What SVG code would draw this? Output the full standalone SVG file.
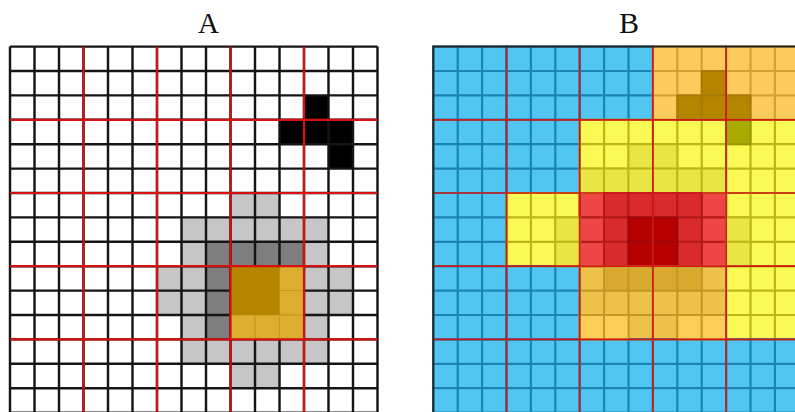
<svg xmlns="http://www.w3.org/2000/svg" xmlns:xlink="http://www.w3.org/1999/xlink" width="795" height="412" viewBox="0 0 795 412">
<style>
.title{font-family:"Liberation Serif","Times New Roman",serif;fill:#111;text-anchor:middle}
.lg{fill:#C6C6C6}.dk{fill:#7E7E7E}.bk{fill:#000}
.gridA{fill:none;stroke:#151515;stroke-width:0.1}
.redA{fill:none;stroke:#D41010;stroke-width:0.09}
.goldD{fill:#B58500}
.goldL{fill:#DCAE30;stroke:#C49A22;stroke-width:0.05}
.fB{fill:#52C6F3}.sB{stroke:#1A84B4}
.fY{fill:#FBFA55}.sY{stroke:#BDB714}
.fO{fill:#FDCB5B}.sO{stroke:#D3A233}
.fR{fill:#EE4646}.sR{stroke:#B41A1A}
.fG{fill:#EDC14A}.sG{stroke:#C49A26}
.bl{fill:none;stroke-width:0.09}
.c{stroke-width:0.08}
.dg{fill:#B58500;stroke:#A57A05}
.ol{fill:#A9AA00;stroke:#979600}
.dy{fill:#E9E545;stroke:#BDB714}
.rM{fill:#D92B2B;stroke:#B41A1A}
.rD{fill:#B70000;stroke:#9E0808}
.gd{fill:#DAAA2F;stroke:#C49A26}
.gl{fill:#FBCF57;stroke:#C49A26}
.redB{fill:none;stroke:#D01818;stroke-width:0.07}
</style>
<defs>
<path id="g3" d="M0 0H3V3H0ZM1 0V3M2 0V3M0 1H3M0 2H3"/>
</defs>
<rect width="795" height="412" fill="#fff"/>
<text class="title" x="208.5" y="32.5" font-size="29">A</text>
<text class="title" x="629" y="33" font-size="30">B</text>

<g id="gridA" transform="translate(10,46.6) scale(24.5,24.4)">
  <rect width="15" height="15.2" fill="#fff"/>
  <!-- black shape -->
  <rect class="bk" x="12" y="2" width="1" height="1"/>
  <rect class="bk" x="11" y="3" width="3" height="1"/>
  <rect class="bk" x="13" y="4" width="1" height="1"/>
  <!-- light grey -->
  <rect class="lg" x="9" y="6" width="2" height="1"/>
  <rect class="lg" x="7" y="7" width="6" height="1"/>
  <rect class="lg" x="7" y="8" width="1" height="1"/>
  <rect class="lg" x="12" y="8" width="1" height="1"/>
  <rect class="lg" x="6" y="9" width="2" height="2"/>
  <rect class="lg" x="12" y="9" width="2" height="2"/>
  <rect class="lg" x="7" y="11" width="1" height="1"/>
  <rect class="lg" x="12" y="11" width="1" height="1"/>
  <rect class="lg" x="7" y="12" width="6" height="1"/>
  <rect class="lg" x="9" y="13" width="2" height="1"/>
  <!-- dark grey -->
  <rect class="dk" x="8" y="8" width="4" height="1"/>
  <rect class="dk" x="8" y="9" width="1" height="3"/>
  <path class="gridA" d="M0 0V15.2M1 0V15.2M2 0V15.2M3 0V15.2M4 0V15.2M5 0V15.2M6 0V15.2M7 0V15.2M8 0V15.2M9 0V15.2M10 0V15.2M11 0V15.2M12 0V15.2M13 0V15.2M14 0V15.2M15 0V15.2M0 0H15M0 1H15M0 2H15M0 3H15M0 4H15M0 5H15M0 6H15M0 7H15M0 8H15M0 9H15M0 10H15M0 11H15M0 12H15M0 13H15M0 14H15M0 15H15"/>
  <!-- gold block -->
  <rect class="goldL" x="11" y="9" width="1" height="1"/>
  <rect class="goldL" x="11" y="10" width="1" height="1"/>
  <rect class="goldL" x="9" y="11" width="1" height="1"/>
  <rect class="goldL" x="10" y="11" width="1" height="1"/>
  <rect class="goldL" x="11" y="11" width="1" height="1"/>
  <rect class="goldD" x="9" y="9" width="2" height="2"/>
  <path class="redA" d="M3 0V15.2M6 0V15.2M9 0V15.2M12 0V15.2M0 3H15M0 6H15M0 9H15M0 12H15"/>
</g>

<g id="gridB" transform="translate(433.3,46.6) scale(24.4)">
  <!-- block fills -->
  <rect class="fB" x="0" y="0" width="9" height="3"/>
  <rect class="fO" x="9" y="0" width="6.5" height="3"/>
  <rect class="fB" x="0" y="3" width="6" height="3"/>
  <rect class="fY" x="6" y="3" width="9.5" height="3"/>
  <rect class="fB" x="0" y="6" width="3" height="3"/>
  <rect class="fY" x="3" y="6" width="3" height="3"/>
  <rect class="fR" x="6" y="6" width="6" height="3"/>
  <rect class="fY" x="12" y="6" width="3.5" height="3"/>
  <rect class="fB" x="0" y="9" width="6" height="3"/>
  <rect class="fG" x="6" y="9" width="6" height="3"/>
  <rect class="fY" x="12" y="9" width="3.5" height="3"/>
  <rect class="fB" x="0" y="12" width="15.5" height="3.2"/>
  <!-- block grid lines -->
  <g class="bl">
    <use xlink:href="#g3" href="#g3" x="0" y="0" class="sB"/>
    <use xlink:href="#g3" href="#g3" x="3" y="0" class="sB"/>
    <use xlink:href="#g3" href="#g3" x="6" y="0" class="sB"/>
    <use xlink:href="#g3" href="#g3" x="9" y="0" class="sO"/>
    <use xlink:href="#g3" href="#g3" x="12" y="0" class="sO"/>
    <use xlink:href="#g3" href="#g3" x="0" y="3" class="sB"/>
    <use xlink:href="#g3" href="#g3" x="3" y="3" class="sB"/>
    <use xlink:href="#g3" href="#g3" x="6" y="3" class="sY"/>
    <use xlink:href="#g3" href="#g3" x="9" y="3" class="sY"/>
    <use xlink:href="#g3" href="#g3" x="12" y="3" class="sY"/>
    <use xlink:href="#g3" href="#g3" x="0" y="6" class="sB"/>
    <use xlink:href="#g3" href="#g3" x="3" y="6" class="sY"/>
    <use xlink:href="#g3" href="#g3" x="6" y="6" class="sR"/>
    <use xlink:href="#g3" href="#g3" x="9" y="6" class="sR"/>
    <use xlink:href="#g3" href="#g3" x="12" y="6" class="sY"/>
    <use xlink:href="#g3" href="#g3" x="0" y="9" class="sB"/>
    <use xlink:href="#g3" href="#g3" x="3" y="9" class="sB"/>
    <use xlink:href="#g3" href="#g3" x="6" y="9" class="sG"/>
    <use xlink:href="#g3" href="#g3" x="9" y="9" class="sG"/>
    <use xlink:href="#g3" href="#g3" x="12" y="9" class="sY"/>
    <use xlink:href="#g3" href="#g3" x="0" y="12" class="sB"/>
    <use xlink:href="#g3" href="#g3" x="3" y="12" class="sB"/>
    <use xlink:href="#g3" href="#g3" x="6" y="12" class="sB"/>
    <use xlink:href="#g3" href="#g3" x="9" y="12" class="sB"/>
    <use xlink:href="#g3" href="#g3" x="12" y="12" class="sB"/>
  </g>
  <!-- cell overrides -->
  <g class="c">
    <rect class="dg" x="11" y="1" width="1" height="1"/>
    <rect class="dg" x="10" y="2" width="1" height="1"/>
    <rect class="dg" x="11" y="2" width="1" height="1"/>
    <rect class="dg" x="12" y="2" width="1" height="1"/>
    <rect class="ol" x="12" y="3" width="1" height="1"/>
    <rect class="dy" x="8" y="4" width="1" height="1"/>
    <rect class="dy" x="9" y="4" width="1" height="1"/>
    <rect class="dy" x="6" y="5" width="1" height="1"/>
    <rect class="dy" x="7" y="5" width="1" height="1"/>
    <rect class="dy" x="8" y="5" width="1" height="1"/>
    <rect class="dy" x="9" y="5" width="1" height="1"/>
    <rect class="dy" x="10" y="5" width="1" height="1"/>
    <rect class="dy" x="11" y="5" width="1" height="1"/>
    <rect class="dy" x="5" y="7" width="1" height="1"/>
    <rect class="dy" x="5" y="8" width="1" height="1"/>
    <rect class="dy" x="12" y="7" width="1" height="1"/>
    <rect class="dy" x="12" y="8" width="1" height="1"/>
    <rect class="rM" x="7" y="6" width="1" height="1"/>
    <rect class="rM" x="8" y="6" width="1" height="1"/>
    <rect class="rM" x="9" y="6" width="1" height="1"/>
    <rect class="rM" x="10" y="6" width="1" height="1"/>
    <rect class="rM" x="7" y="7" width="1" height="1"/>
    <rect class="rM" x="10" y="7" width="1" height="1"/>
    <rect class="rM" x="7" y="8" width="1" height="1"/>
    <rect class="rM" x="10" y="8" width="1" height="1"/>
    <rect class="rD" x="8" y="7" width="1" height="1"/>
    <rect class="rD" x="9" y="7" width="1" height="1"/>
    <rect class="rD" x="8" y="8" width="1" height="1"/>
    <rect class="rD" x="9" y="8" width="1" height="1"/>
    <rect class="gd" x="7" y="9" width="1" height="1"/>
    <rect class="gd" x="8" y="9" width="1" height="1"/>
    <rect class="gd" x="9" y="9" width="1" height="1"/>
    <rect class="gd" x="10" y="9" width="1" height="1"/>
    <rect class="gl" x="6" y="11" width="1" height="1"/>
    <rect class="gl" x="7" y="11" width="1" height="1"/>
    <rect class="gl" x="10" y="11" width="1" height="1"/>
    <rect class="gl" x="11" y="11" width="1" height="1"/>
  </g>
  <path class="redB" d="M3 0V15.2M6 0V15.2M9 0V15.2M12 0V15.2M0 3H15.5M0 6H15.5M0 9H15.5M0 12H15.5"/>
  <path d="M0 15.2V0H15.5" fill="none" stroke="#222" stroke-width="0.08"/>
</g>
</svg>
